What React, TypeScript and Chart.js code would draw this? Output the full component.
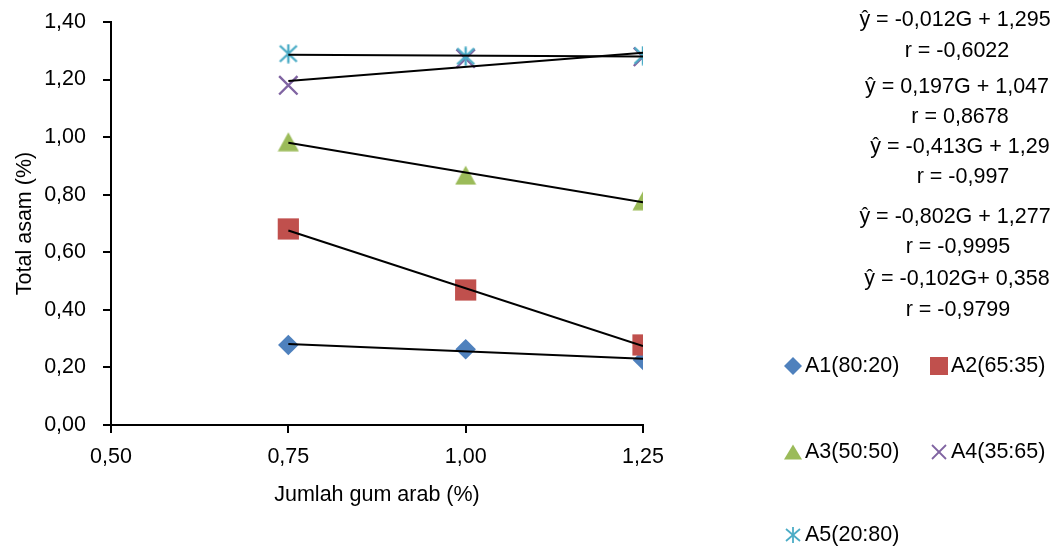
import React, { useEffect, useRef } from "react";
import { Chart, registerables } from "chart.js";

Chart.register(...registerables);

// ---------- data ----------
const gumArab = [0.75, 1.0, 1.25];
const seriesNames = ["A1(80:20)", "A2(65:35)", "A3(50:50)", "A4(35:65)", "A5(20:80)"];
const a1Values = [0.278, 0.263, 0.226];
const a2Values = [0.681, 0.469, 0.278];
const a3Values = [0.984, 0.868, 0.779];
const a4Values = [1.18, 1.273, 1.279];
const a5Values = [1.29, 1.281, 1.283];
const trendSlopes = [-0.102, -0.802, -0.413, 0.197, -0.012];
const trendIntercepts = [0.358, 1.277, 1.29, 1.047, 1.295];
const equationLines = [
  "ŷ = -0,012G + 1,295",
  "r = -0,6022",
  "ŷ = 0,197G + 1,047",
  "r = 0,8678",
  "ŷ = -0,413G + 1,29",
  "r = -0,997",
  "ŷ = -0,802G + 1,277",
  "r = -0,9995",
  "ŷ = -0,102G+ 0,358",
  "r = -0,9799",
];
const xTickValues = [0.5, 0.75, 1.0, 1.25];
const yTickValues = [0, 0.2, 0.4, 0.6, 0.8, 1.0, 1.2, 1.4];
const xTitle = "Jumlah gum arab (%)";
const yTitle = "Total asam (%)";

// ---------- styles ----------
const FONT = "'Liberation Sans', Arial, sans-serif";
const FONT_SIZE = 21.5;
const colors = ["#4F81BD", "#C0504D", "#9BBB59", "#8064A2", "#4BACC6"];
const pointRadii = [10.3, 15, 12, 13, 10];
const eqPos = [
  [955, 20], [957, 51], [957, 87], [960, 117], [960, 147],
  [963, 177], [955, 217], [958, 247], [957, 279], [958, 310],
];
const legendPos = [
  [793, 366], [939, 366], [793, 452], [939, 452], [793, 535],
];

const fmt = (v: number) => v.toFixed(2).replace(".", ",");

function makeTriangle(color: string) {
  const c = document.createElement("canvas");
  c.width = 22;
  c.height = 20;
  const ctx = c.getContext("2d")!;
  ctx.fillStyle = color;
  ctx.beginPath();
  ctx.moveTo(11, 0.5);
  ctx.lineTo(21.5, 19.5);
  ctx.lineTo(0.5, 19.5);
  ctx.closePath();
  ctx.fill();
  return c;
}

function makeStar(color: string) {
  const c = document.createElement("canvas");
  c.width = 20;
  c.height = 20;
  const ctx = c.getContext("2d")!;
  ctx.strokeStyle = color;
  ctx.lineWidth = 2.4;
  ctx.beginPath();
  ctx.moveTo(10, 0.5);
  ctx.lineTo(10, 19.5);
  ctx.moveTo(1.5, 2);
  ctx.lineTo(18.5, 18);
  ctx.moveTo(18.5, 2);
  ctx.lineTo(1.5, 18);
  ctx.stroke();
  return c;
}

function Marker({ idx }: { idx: number }) {
  const c = colors[idx];
  let shape: any = null;
  if (idx === 0) shape = <polygon points="10,1 19,10 10,19 1,10" fill={c} />;
  else if (idx === 1) shape = <rect x="1" y="1" width="18" height="18" fill={c} />;
  else if (idx === 2) shape = <polygon points="10,2.5 19,17.5 1,17.5" fill={c} />;
  else if (idx === 3)
    shape = (
      <g stroke={c} strokeWidth="1.8">
        <line x1="3" y1="3" x2="17" y2="17" />
        <line x1="17" y1="3" x2="3" y2="17" />
      </g>
    );
  else
    shape = (
      <g stroke={c} strokeWidth="1.8">
        <line x1="3" y1="4" x2="17" y2="16" />
        <line x1="17" y1="4" x2="3" y2="16" />
        <line x1="10" y1="2" x2="10" y2="18" />
      </g>
    );
  return (
    <svg width={20} height={20} viewBox="0 0 20 20" style={{ display: "block" }}>
      {shape}
    </svg>
  );
}

export default function App() {
  const canvasRef = useRef<HTMLCanvasElement | null>(null);

  useEffect(() => {
    if (!canvasRef.current) return;
    const seriesValues = [a1Values, a2Values, a3Values, a4Values, a5Values];
    const styles: any[] = ["rectRot", "rect", makeTriangle(colors[2]), "crossRot", makeStar(colors[4])];
    const markerSets = seriesValues.map((vals, i) => ({
      type: "scatter" as const,
      label: seriesNames[i],
      data: gumArab.map((g, j) => ({ x: g, y: vals[j] })),
      showLine: false,
      pointStyle: styles[i],
      pointRadius: pointRadii[i],
      pointHoverRadius: pointRadii[i],
      backgroundColor: colors[i],
      borderColor: colors[i],
      pointBorderWidth: i === 3 ? 2.4 : 0,
      order: 5 - i,
    }));
    const trendSets = trendSlopes.map((m, i) => ({
      type: "line" as const,
      label: "trend " + seriesNames[i],
      data: [gumArab[0], gumArab[gumArab.length - 1]].map((g) => ({ x: g, y: m * g + trendIntercepts[i] })),
      borderColor: "#000000",
      borderWidth: 2,
      pointRadius: 0,
      fill: false,
      order: 0,
    }));

    const tickFont = { family: FONT, size: FONT_SIZE };
    const chart = new Chart(canvasRef.current, {
      type: "scatter",
      data: { datasets: [...markerSets, ...trendSets] as any },
      options: {
        responsive: false,
        animation: false,
        devicePixelRatio: 1,
        layout: { autoPadding: false, padding: { left: 0, top: 22, right: 419, bottom: 0 } },
        plugins: { legend: { display: false }, tooltip: { enabled: false } },
        scales: {
          x: {
            type: "linear",
            min: 0.5,
            max: 1.25,
            afterBuildTicks: (s: any) => {
              s.ticks = xTickValues.map((v) => ({ value: v }));
            },
            afterFit: (s: any) => {
              s.height = 127;
              s.paddingLeft = 0;
              s.paddingRight = 0;
            },
            ticks: { font: tickFont, color: "#000", padding: 11, callback: (v: any) => fmt(Number(v)) },
            grid: { drawOnChartArea: false, drawTicks: true, tickLength: 8, color: "#000", lineWidth: 2 },
            border: { color: "#000", width: 2 },
            title: { display: true, text: xTitle, font: tickFont, color: "#000", padding: { top: 0, bottom: 44 } },
          },
          y: {
            type: "linear",
            min: 0,
            max: 1.4,
            afterBuildTicks: (s: any) => {
              s.ticks = yTickValues.map((v) => ({ value: v }));
            },
            afterFit: (s: any) => {
              s.width = 111;
              s.paddingTop = 0;
              s.paddingBottom = 0;
            },
            ticks: { font: tickFont, color: "#000", padding: 17, callback: (v: any) => fmt(Number(v)) },
            grid: { drawOnChartArea: false, drawTicks: true, tickLength: 8, color: "#000", lineWidth: 2 },
            border: { color: "#000", width: 2 },
            title: { display: true, text: yTitle, font: tickFont, color: "#000", padding: { top: 12, bottom: 0 } },
          },
        },
      } as any,
    });
    return () => chart.destroy();
  }, []);

  return (
    <div
      style={{
        position: "fixed",
        left: 0,
        top: 0,
        width: 1062,
        height: 552,
        background: "#fff",
        fontFamily: FONT,
        fontSize: FONT_SIZE,
        color: "#000",
      }}
    >
      <canvas ref={canvasRef} width={1062} height={552} style={{ position: "absolute", left: 0, top: 0 }} />
      {equationLines.map((t, i) => (
        <div
          key={"eq" + i}
          style={{
            position: "absolute",
            left: eqPos[i][0],
            top: eqPos[i][1],
            transform: "translate(-50%, -50%)",
            whiteSpace: "nowrap",
            lineHeight: 1,
          }}
        >
          {t}
        </div>
      ))}
      {seriesNames.map((name, i) => (
        <React.Fragment key={"lg" + i}>
          <div style={{ position: "absolute", left: legendPos[i][0] - 10, top: legendPos[i][1] - 10 }}>
            <Marker idx={i} />
          </div>
          <div
            style={{
              position: "absolute",
              left: legendPos[i][0] + 12,
              top: legendPos[i][1],
              transform: "translateY(-50%)",
              whiteSpace: "nowrap",
              lineHeight: 1,
            }}
          >
            {name}
          </div>
        </React.Fragment>
      ))}
    </div>
  );
}
